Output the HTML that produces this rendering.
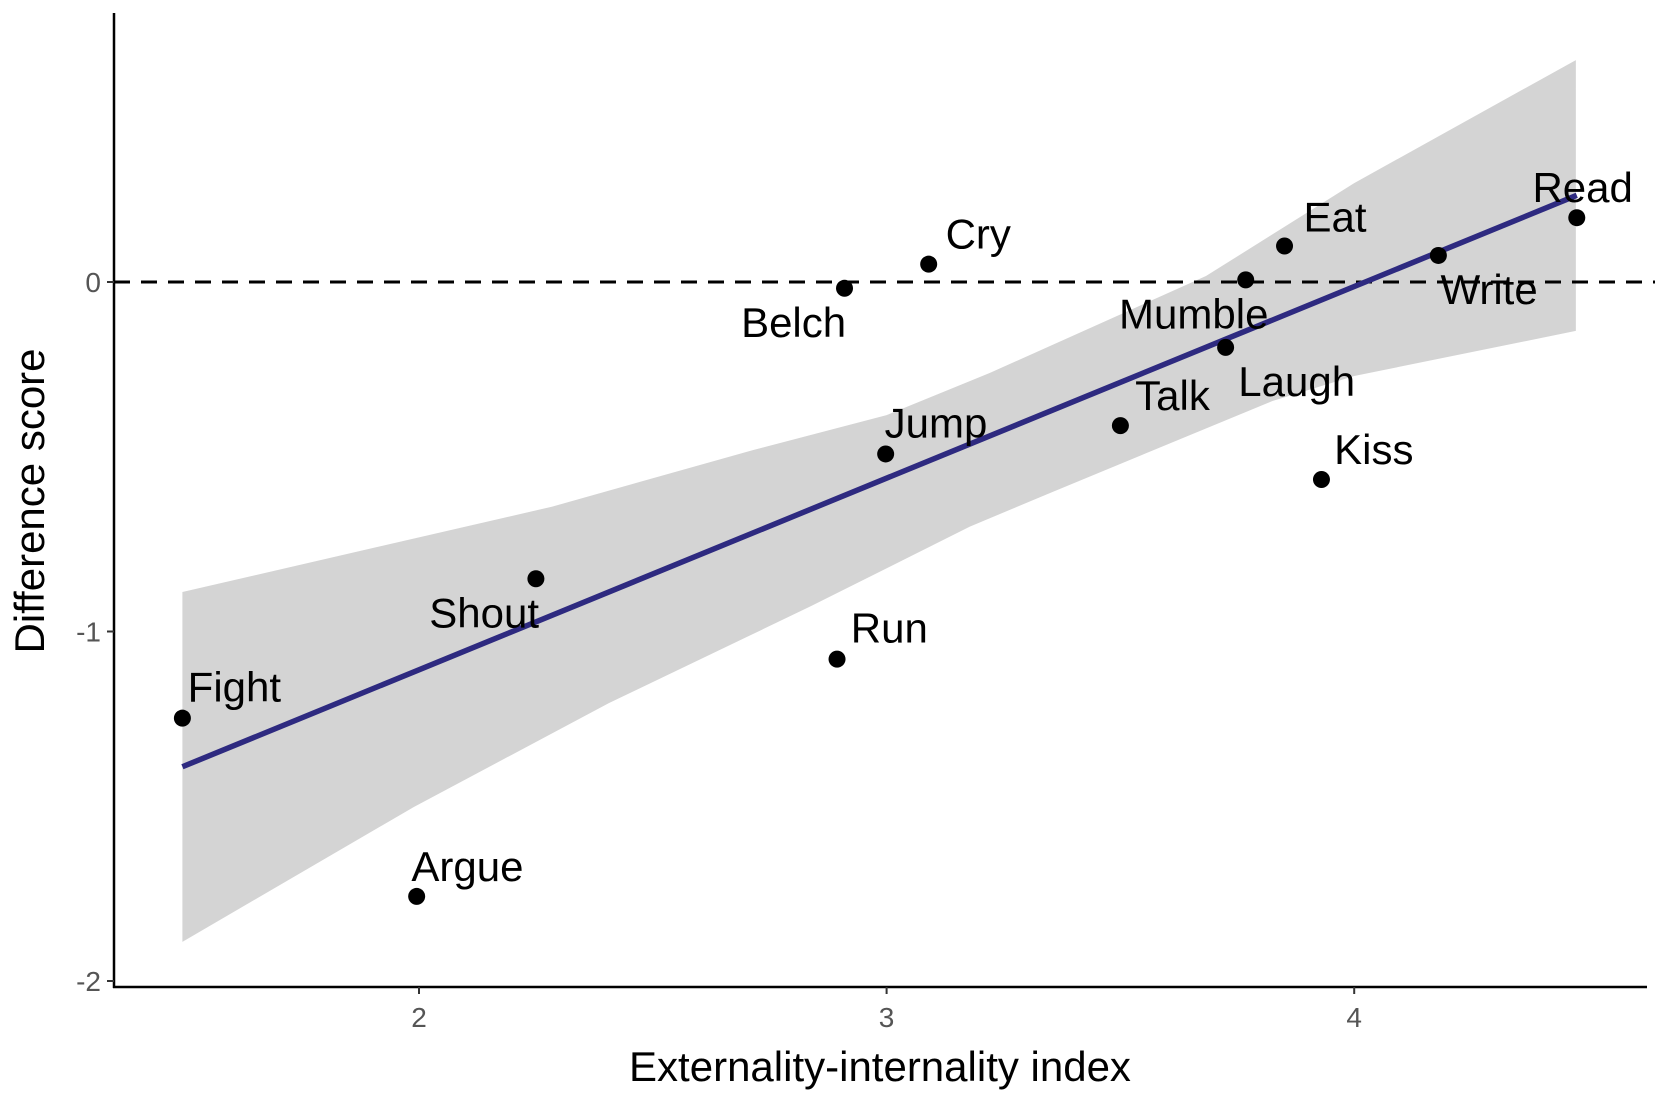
<!DOCTYPE html>
<html><head><meta charset="utf-8"><style>
html,body{margin:0;padding:0;background:#fff}
svg{display:block;font-family:"Liberation Sans",Arial,sans-serif}
</style></head><body>
<svg id="chart" width="1655" height="1098" viewBox="0 0 1655 1098"></svg>
<script>
const words=["Fight","Argue","Shout","Run","Jump","Belch","Cry","Talk","Laugh","Mumble","Eat","Kiss","Write","Read"];
const xVals=[1.494,1.995,2.25,2.894,2.998,2.91,3.09,3.50,3.725,3.768,3.851,3.93,4.18,4.476];
const yVals=[-1.248,-1.758,-0.849,-1.079,-0.492,-0.018,0.051,-0.411,-0.187,0.006,0.103,-0.565,0.076,0.184];
const xTicks=[2,3,4];
const yTicks=[0,-1,-2];
const yTickLabels=["0","-1","-2"];
const fitX=[1.494,4.476];
const fitY=[-1.387,0.248];
const upperX=[1.494,2.284,2.714,3.0,3.221,3.683,4.0,4.474];
const upperY=[-0.887,-0.643,-0.481,-0.381,-0.26,0.017,0.283,0.635];
const lowerX=[1.494,1.989,2.406,2.836,3.178,3.349,3.826,4.0,4.474];
const lowerY=[-1.888,-1.502,-1.205,-0.929,-0.70,-0.604,-0.340,-0.269,-0.140];
// label offsets (layout)
const labDx=[5,-5,-101,13,-1,-98,16,14,12,-120,18,12,2,-42];
const labDy=[-30,-29,32,-30,-30,32,-29,-29,32,32,-28,-29,32,-29];

const S=1.0555;
const X=v=>419+(v-2)*467.6;
const Y=v=>282-v*349.5;
const NS="http://www.w3.org/2000/svg";
const svg=document.getElementById('chart');
function mk(t,a,p){const e=document.createElementNS(NS,t);for(const k in a)e.setAttribute(k,a[k]);(p||svg).appendChild(e);return e;}

// band
let pts=[];
upperX.forEach((x,i)=>pts.push(X(x)+','+Y(upperY[i])));
for(let i=lowerX.length-1;i>=0;i--)pts.push(X(lowerX[i])+','+Y(lowerY[i]));
const band=mk('polygon',{points:pts.join(' '),fill:'#d4d4d4','stroke-linejoin':'round'});



const zl=mk('line',{x1:114,x2:1655,y1:Y(0),y2:Y(0),stroke:'#000','stroke-width':3,'stroke-dasharray':'16,11'});



const fl=mk('line',{x1:X(fitX[0]),y1:Y(fitY[0]),x2:X(fitX[1]),y2:Y(fitY[1]),stroke:'#2e2a80','stroke-width':5.5});



const ya=mk('line',{x1:114,x2:114,y1:13,y2:988,stroke:'#000','stroke-width':2.5});


const xa=mk('line',{x1:113,x2:1647,y1:987,y2:987,stroke:'#000','stroke-width':2.5});



xTicks.forEach(t=>{
  const tk=mk('line',{x1:X(t),x2:X(t),y1:987,y2:994,stroke:'#333','stroke-width':2});
  
  
  const tl=mk('text',{x:X(t),y:1027,'text-anchor':'middle','font-size':28,fill:'#555'});
  tl.textContent=t;
  
  
});
yTicks.forEach((t,i)=>{
  const tk=mk('line',{x1:107,x2:114,y1:Y(t),y2:Y(t),stroke:'#333','stroke-width':2});
  
  
  const tl=mk('text',{x:101,y:Y(t)+10,'text-anchor':'end','font-size':28,fill:'#555'});
  tl.textContent=yTickLabels[i];
  
  
});

words.forEach((w,i)=>{
  const c=mk('circle',{cx:X(xVals[i]),cy:Y(yVals[i]),r:8.5,fill:'#000'});
  
  
  const t=mk('text',{x:X(xVals[i])+labDx[i]*S,y:Y(yVals[i])+labDy[i]*S+15,'font-size':42,fill:'#000'});
  t.textContent=w;
  
  
});

const xt=mk('text',{x:880,y:1081,'text-anchor':'middle','font-size':42,fill:'#000'});
xt.textContent='Externality-internality index';


const yt=mk('text',{x:0,y:0,'text-anchor':'middle','font-size':42,fill:'#000',transform:'translate(44,501) rotate(-90)'});
yt.textContent='Difference score';


</script>
</body></html>
